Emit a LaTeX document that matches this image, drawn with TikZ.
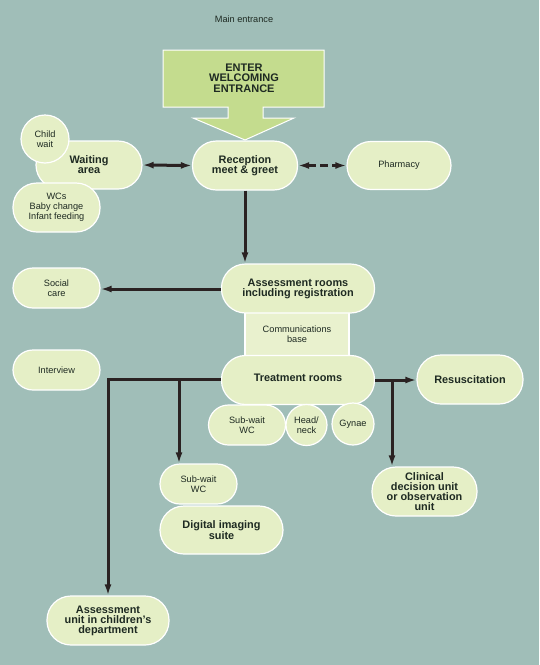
\documentclass[tikz,border=0pt]{standalone}
\usepackage{fontspec}
\setmainfont{Liberation Sans}
\usetikzlibrary{arrows.meta}
\definecolor{bg}{HTML}{A0BEB8}
\definecolor{nfill}{HTML}{E5EFC6}
\definecolor{cfill}{HTML}{E9F1CE}
\definecolor{efill}{HTML}{C4DC8E}
\definecolor{ink}{HTML}{1E2A22}
\definecolor{lnk}{HTML}{2A2222}
\tikzset{
  box/.style={draw=white, line width=1.2pt, fill=nfill, text=ink, align=center, inner sep=0pt},
  pillL/.style={box, rounded corners=24pt, font=\fontsize{10.9}{10}\selectfont\bfseries},
  pillS/.style={box, rounded corners=20pt, font=\fontsize{9.2}{10}\selectfont},
  disc/.style={box, circle, font=\fontsize{9.2}{10}\selectfont},
  conn/.style={draw=lnk, line width=3pt},
  arr/.style={conn, -{Latex[length=11pt,width=7pt]}},
  darr/.style={conn, {Latex[length=11pt,width=7pt]}-{Latex[length=11pt,width=7pt]}}
}
\begin{document}
\begin{tikzpicture}[x=1pt,y=-1pt]
\useasboundingbox (0,0) rectangle (539,665);
\fill[bg] (0,0) rectangle (539,665);

\node[font=\fontsize{9.2}{10}\selectfont, text=ink] (mainent) at (244,19) {Main entrance};

\filldraw[fill=efill, draw=white, line width=1pt]
  (163,50) -- (324,50) -- (324,107) -- (263,107) -- (263,118) -- (294,118)
  -- (245,140) -- (193,118) -- (228,118) -- (228,107) -- (163,107) -- cycle;
\node[align=center, text=ink, font=\fontsize{11}{10.3}\selectfont\bfseries] (enter) at (244,78) {ENTER\\WELCOMING\\ENTRANCE};

% waiting cluster
\node[pillL, minimum width=106pt, minimum height=48pt] (wait) at (89,165) {Waiting\\area};
\node[disc, minimum size=48pt] (childw) at (45,139) {Child\\wait};
\node[pillS, rounded corners=24pt, minimum width=87pt, minimum height=49pt] (wcs) at (56.5,207.5) {WCs\\Baby change\\Infant feeding};

\node[pillL, minimum width=105pt, minimum height=49pt] (recep) at (245,165.5) {Reception\\meet \& greet};
\node[pillS, rounded corners=24pt, minimum width=104pt, minimum height=48pt] (pharm) at (399,165.5) {Pharmacy};

% communications base behind
\node[box, fill=cfill, minimum width=104pt, minimum height=44pt, font=\fontsize{9.2}{10}\selectfont] (comms) at (297,334) {Communications\\base};
\node[pillL, minimum width=153pt, minimum height=49pt] (assess) at (298,288.5) {Assessment rooms\\including registration};
\node[pillL, minimum width=153pt, minimum height=49pt] (treat) at (298,380) {\raisebox{5pt}{Treatment rooms}};

\node[pillS, minimum width=87pt, minimum height=40pt] (social) at (56.5,288) {Social\\care};
\node[pillS, minimum width=87pt, minimum height=40pt] (interview) at (56.5,370) {Interview};
\node[pillL, minimum width=106pt, minimum height=49pt] (resus) at (470,379.5) {Resuscitation};

\node[pillS, minimum width=77pt, minimum height=40pt] (subwr) at (247,425) {Sub-wait\\WC};
\node[disc, minimum size=41pt] (head) at (306.5,425) {Head/\\neck};
\node[disc, minimum size=42pt] (gynae) at (353,424) {Gynae};

\node[pillL, minimum width=105pt, minimum height=49pt] (cdu) at (424.5,491.5) {Clinical\\decision unit\\or observation\\unit};
\node[pillS, minimum width=77pt, minimum height=40pt] (subwl) at (198.5,484) {Sub-wait\\WC};
\node[pillL, minimum width=123pt, minimum height=48pt] (dig) at (221.5,530) {Digital imaging\\suite};
\node[pillL, minimum width=122pt, minimum height=49pt] (childd) at (108,620.5) {Assessment\\unit in children's\\department};

% connectors
\draw[darr] (wait.east) -- (recep.west);
\draw[darr, dash pattern=on 8pt off 4pt] (recep.east) -- (pharm.west);
\draw[arr] (recep.south) -- (recep.south |- assess.north);
\draw[arr] (assess.west |- 0,289) -- (social.east |- 0,289);
\coordinate (jl) at (179,379);
\coordinate (jr) at (392,380);
\draw[arr] (treat.west |- 0,379) -| (childd.north);
\draw[arr] (jl) -- (jl |- subwl.north);
\draw[arr] (treat.east |- 0,380) -- (resus.west |- 0,380);
\draw[arr] (jr) -- (jr |- cdu.north);
\end{tikzpicture}
\end{document}
